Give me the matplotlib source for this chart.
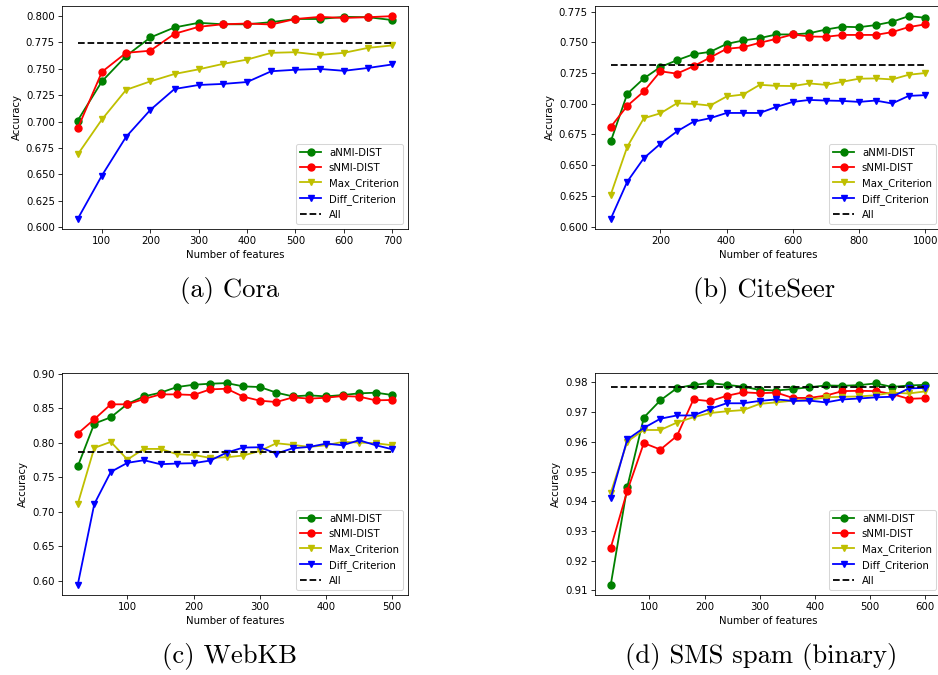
import matplotlib
matplotlib.use("Agg")
import matplotlib.pyplot as plt

S = 0.73
plt.rcParams.update({
    "font.family": ["DejaVu Sans"],
    "font.size": 10 * S,
    "lines.linewidth": 1.3,
    "lines.markersize": 5.0,
    "axes.linewidth": 0.8 * S,
    "xtick.major.size": 3.5 * S,
    "ytick.major.size": 3.5 * S,
    "xtick.major.width": 0.8 * S,
    "ytick.major.width": 0.8 * S,
    "xtick.major.pad": 3.5 * S,
    "ytick.major.pad": 3.5 * S,
    "axes.labelpad": 4.0 * S,
    "patch.linewidth": 1.0 * S,
})

series_names = ["aNMI-DIST", "sNMI-DIST", "Max_Criterion", "Diff_Criterion"]
all_name = "All"

# (a) Cora
cora_x = [50, 100, 150, 200, 250, 300, 350, 400, 450, 500, 550, 600, 650, 700]
cora_anmi = [0.701, 0.738, 0.762, 0.7795, 0.789, 0.7934, 0.792, 0.792, 0.794, 0.797, 0.797, 0.799, 0.7987, 0.796]
cora_snmi = [0.6935, 0.747, 0.765, 0.767, 0.783, 0.7896, 0.792, 0.7927, 0.7918, 0.797, 0.799, 0.798, 0.7987, 0.7997]
cora_max = [0.6689, 0.702, 0.730, 0.738, 0.745, 0.7494, 0.7545, 0.7586, 0.765, 0.7656, 0.763, 0.765, 0.7697, 0.772]
cora_diff = [0.608, 0.649, 0.6856, 0.711, 0.7308, 0.7346, 0.7356, 0.7374, 0.7476, 0.749, 0.7498, 0.748, 0.7507, 0.754]
cora_all = 0.7747

# (b) CiteSeer
cite_x = [50, 100, 150, 200, 250, 300, 350, 400, 450, 500, 550, 600, 650, 700, 750, 800, 850, 900, 950, 1000]
cite_anmi = [0.6693, 0.7081, 0.7206, 0.7299, 0.7354, 0.7403, 0.7422, 0.7487, 0.7515, 0.7534, 0.7564,
             0.7564, 0.7574, 0.7604, 0.7627, 0.7623, 0.764, 0.7667, 0.7713, 0.770]
cite_snmi = [0.6811, 0.6983, 0.710, 0.7264, 0.7245, 0.7305, 0.7376, 0.7447, 0.746, 0.7496, 0.7528,
             0.7564, 0.7547, 0.7545, 0.756, 0.756, 0.756, 0.7583, 0.7624, 0.7646]
cite_max = [0.626, 0.665, 0.6882, 0.6922, 0.7004, 0.6999, 0.6985, 0.7059, 0.7075, 0.7154, 0.7146,
            0.7144, 0.7165, 0.7154, 0.7179, 0.7204, 0.7206, 0.7198, 0.7236, 0.725]
cite_diff = [0.6063, 0.6366, 0.6557, 0.6674, 0.6775, 0.6854, 0.6882, 0.6925, 0.6925, 0.6925, 0.6974,
             0.7015, 0.7031, 0.7026, 0.7023, 0.7015, 0.7026, 0.7002, 0.7064, 0.707]
cite_all = 0.7312

# (c) WebKB
web_x = [25, 50, 75, 100, 125, 150, 175, 200, 225, 250, 275, 300, 325, 350, 375, 400, 425, 450, 475, 500]
web_anmi = [0.7655, 0.8277, 0.8369, 0.8562, 0.8672, 0.8726, 0.8808, 0.8841, 0.8856, 0.8865, 0.8817,
            0.8808, 0.8726, 0.8672, 0.8687, 0.8672, 0.8692, 0.8716, 0.8726, 0.8692]
web_snmi = [0.8132, 0.834, 0.8557, 0.8557, 0.8634, 0.8701, 0.8701, 0.8692, 0.8774, 0.8783, 0.8668,
            0.861, 0.859, 0.8658, 0.8639, 0.8653, 0.8677, 0.8668, 0.8615, 0.862]
web_max = [0.711, 0.7925, 0.8012, 0.7756, 0.791, 0.791, 0.7833, 0.7823, 0.778, 0.779, 0.7814,
           0.7881, 0.7992, 0.7968, 0.7939, 0.7963, 0.8012, 0.8002, 0.7992, 0.7963]
web_diff = [0.5937, 0.711, 0.7577, 0.7708, 0.7746, 0.7688, 0.7698, 0.7703, 0.7741, 0.7857, 0.793,
            0.7934, 0.7843, 0.792, 0.7939, 0.7987, 0.7963, 0.8036, 0.7963, 0.7905]
web_all = 0.7867

# (d) SMS spam (binary)
sms_x = [30, 60, 90, 120, 150, 180, 210, 240, 270, 300, 330, 360, 390, 420, 450, 480, 510, 540, 570, 600]
sms_anmi = [0.9118, 0.9448, 0.9682, 0.974, 0.9781, 0.9792, 0.9798, 0.9792, 0.9786, 0.9775, 0.9773,
            0.9778, 0.9784, 0.979, 0.9789, 0.9791, 0.9797, 0.9785, 0.979, 0.9792]
sms_snmi = [0.9243, 0.9435, 0.9596, 0.9574, 0.962, 0.9743, 0.9737, 0.9755, 0.9767, 0.9764, 0.9766,
            0.9748, 0.9748, 0.9756, 0.9771, 0.9772, 0.9771, 0.9761, 0.9745, 0.9747]
sms_max = [0.9428, 0.9601, 0.964, 0.964, 0.9665, 0.9683, 0.9697, 0.9703, 0.9707, 0.9728, 0.9733,
           0.9739, 0.9742, 0.975, 0.9752, 0.9753, 0.9757, 0.9766, 0.9763, 0.977]
sms_diff = [0.9411, 0.9608, 0.9647, 0.9678, 0.9689, 0.9689, 0.9711, 0.973, 0.973, 0.9738, 0.9743,
            0.9738, 0.9739, 0.9733, 0.9743, 0.9746, 0.975, 0.9752, 0.978, 0.9782]
sms_all = 0.9784

captions = ["(a) Cora", "(b) CiteSeer", "(c) WebKB", "(d) SMS spam (binary)"]

panels = [
    (cora_x, [cora_anmi, cora_snmi, cora_max, cora_diff], cora_all),
    (cite_x, [cite_anmi, cite_snmi, cite_max, cite_diff], cite_all),
    (web_x, [web_anmi, web_snmi, web_max, web_diff], web_all),
    (sms_x, [sms_anmi, sms_snmi, sms_max, sms_diff], sms_all),
]

W, H = 938, 675
fig = plt.figure(figsize=(W / 100, H / 100), dpi=100)

# axes boxes in pixels: left, top, width, height
boxes = [(62, 6, 346, 223), (595, 6, 346, 223), (62, 373, 346, 222), (595, 373, 346, 222)]
cap_pos = [(230, 291), (764, 291), (229, 657), (761, 657)]

styles = [dict(color="g", marker="o"), dict(color="r", marker="o"),
          dict(color="y", marker="v"), dict(color="b", marker="v")]

for i, ((x, ys, allv), box) in enumerate(zip(panels, boxes)):
    l, t, w, h = box
    ax = fig.add_axes([l / W, 1 - (t + h) / H, w / W, h / H])
    for name, y, st in zip(series_names, ys, styles):
        ax.plot(x, y, label=name, **st)
    ax.plot([x[0], x[-1]], [allv, allv], "k--", label=all_name)
    ax.set_xlabel("Number of features")
    ax.set_ylabel("Accuracy")
    ax.legend(loc="lower right")
    cx, cy = cap_pos[i]
    fig.text(cx / W, 1 - cy / H, captions[i], ha="center", va="center",
             fontsize=19.2, family=["cmr10", "DejaVu Serif"])

fig.savefig("out.png", dpi=100)
